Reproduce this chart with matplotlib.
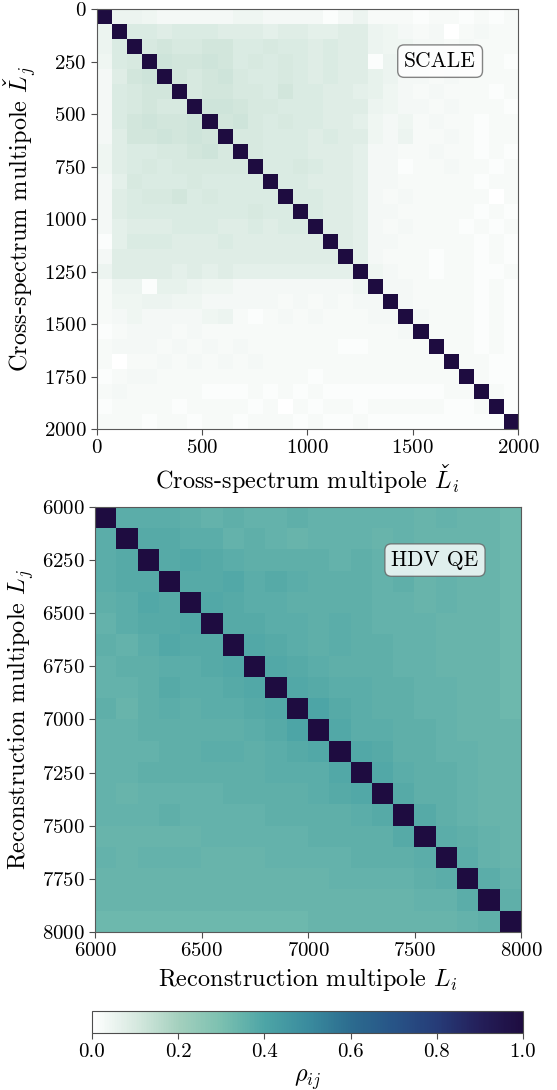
import numpy as np
import matplotlib
matplotlib.use("Agg")
import matplotlib.pyplot as plt
from matplotlib import rcParams
from matplotlib.colors import LinearSegmentedColormap
import matplotlib._mathtext as _mt
import matplotlib._mathtext_data as _mtd

rcParams['font.family'] = 'serif'
rcParams['font.serif'] = ['cmr10']
rcParams['mathtext.fontset'] = 'cm'
rcParams['axes.formatter.use_mathtext'] = True
rcParams['axes.unicode_minus'] = False

# mathtext knows no \check accent: register one drawn with the spacing caron
_mtd.tex2uni['combiningcaron'] = 0x02C7
_mt.Parser._accent_map['check'] = r'\combiningcaron'

# multipole ranges of the two binnings
scale_range = [0, 2000]
hdv_range = [6000, 8000]

# SCALE cross-spectrum bin correlations, upper triangle in units of 0.01
scale_upper = [
    [5, 5, 4, 3, 3, 3, 3, 3, 4, 4, 3, 3, 3, 3, 1, 3, 5, 2, 2, 2, 1, 2, 2, 1, 2, 1, 2],
    [9, 9, 8, 9, 9, 9, 8, 8, 8, 7, 8, 8, 7, 7, 8, 8, 5, 4, 3, 2, 3, 0, 2, 3, 2, 2],
    [10, 11, 10, 10, 11, 11, 9, 9, 10, 9, 9, 8, 9, 8, 8, 5, 4, 4, 3, 3, 2, 3, 2, 2, 2],
    [12, 11, 11, 12, 11, 9, 10, 9, 10, 9, 8, 9, 8, 8, 1, 5, 3, 3, 3, 2, 3, 2, 2, 1],
    [11, 10, 11, 12, 10, 9, 9, 10, 9, 8, 9, 8, 8, 6, 5, 3, 3, 2, 3, 2, 2, 2, 2],
    [10, 11, 11, 10, 10, 9, 11, 9, 9, 8, 8, 7, 6, 4, 3, 2, 3, 2, 2, 2, 1, 2],
    [12, 12, 11, 10, 10, 9, 9, 9, 8, 8, 8, 5, 4, 3, 3, 2, 3, 2, 2, 2, 1],
    [11, 12, 10, 9, 10, 9, 9, 8, 8, 7, 4, 3, 4, 2, 3, 2, 2, 1, 2, 2],
    [10, 10, 9, 9, 9, 8, 9, 8, 8, 4, 3, 5, 2, 2, 3, 2, 1, 2, 2],
    [10, 9, 9, 9, 8, 8, 8, 7, 3, 3, 2, 2, 3, 2, 2, 1, 2, 1],
    [9, 9, 10, 9, 8, 8, 7, 3, 3, 1, 2, 2, 3, 2, 2, 1, 2],
    [9, 9, 8, 8, 8, 7, 3, 3, 2, 2, 2, 2, 2, 1, 2, 2],
    [9, 9, 8, 8, 7, 3, 2, 3, 2, 2, 2, 2, 2, 0, 2],
    [9, 8, 8, 7, 3, 3, 2, 2, 2, 2, 2, 1, 2, 1],
    [8, 8, 7, 3, 2, 3, 2, 2, 2, 1, 2, 1, 2],
    [8, 7, 3, 3, 2, 2, 2, 2, 2, 1, 2, 1],
    [7, 3, 2, 2, 2, 1, 2, 2, 1, 2, 1],
    [4, 3, 2, 2, 1, 2, 2, 1, 1, 2],
    [3, 3, 2, 2, 2, 2, 1, 2, 1],
    [3, 2, 2, 2, 2, 1, 2, 1],
    [3, 2, 2, 2, 1, 2, 1],
    [2, 2, 2, 1, 2, 1],
    [2, 2, 1, 2, 1],
    [2, 2, 1, 1],
    [2, 1, 1],
    [2, 1],
    [1],
    [],
]

# HDV quadratic estimator bin correlations, upper triangle in units of 0.01
hdv_upper = [
    [37, 37, 37, 36, 35, 36, 35, 35, 36, 35, 35, 35, 35, 35, 34, 35, 34, 34, 33],
    [38, 38, 37, 37, 35, 36, 35, 34, 35, 35, 35, 34, 35, 34, 34, 34, 34, 33],
    [38, 39, 38, 37, 36, 36, 36, 36, 35, 36, 35, 35, 34, 35, 34, 34, 33],
    [38, 38, 39, 37, 38, 37, 36, 36, 36, 35, 36, 34, 35, 34, 34, 33],
    [39, 38, 37, 37, 36, 36, 36, 36, 35, 35, 34, 35, 34, 34, 33],
    [38, 38, 37, 37, 36, 37, 36, 35, 35, 35, 34, 34, 34, 33],
    [39, 38, 37, 36, 37, 36, 36, 35, 35, 34, 34, 34, 33],
    [39, 38, 37, 36, 36, 36, 35, 35, 34, 34, 34, 33],
    [39, 38, 37, 37, 36, 36, 35, 35, 34, 34, 33],
    [40, 38, 37, 36, 36, 35, 35, 34, 34, 33],
    [39, 37, 37, 36, 36, 35, 34, 34, 34],
    [39, 38, 36, 36, 35, 35, 34, 34],
    [39, 37, 36, 36, 35, 34, 34],
    [38, 36, 36, 35, 34, 34],
    [38, 36, 35, 34, 34],
    [37, 36, 35, 34],
    [37, 35, 34],
    [37, 35],
    [36],
    [],
]

scale_xticks = [0, 500, 1000, 1500, 2000]
scale_yticks = [0, 250, 500, 750, 1000, 1250, 1500, 1750, 2000]
hdv_xticks = [6000, 6500, 7000, 7500, 8000]
hdv_yticks = [6000, 6250, 6500, 6750, 7000, 7250, 7500, 7750, 8000]
cbar_ticks = [0.0, 0.2, 0.4, 0.6, 0.8, 1.0]


def full_matrix(upper):
    n = len(upper)
    m = np.eye(n)
    for i, row in enumerate(upper):
        for k, v in enumerate(row):
            m[i, i + 1 + k] = m[i + 1 + k, i] = v / 100.0
    return m


cmap = LinearSegmentedColormap.from_list("rho", [
    (0.0, "#ffffff"), (0.1, "#d7e9e0"), (0.2, "#a4d0be"), (0.3, "#7bc0b0"),
    (0.4, "#4da5a6"), (0.5, "#3a8c9e"), (0.6, "#2c6c8f"), (0.7, "#275487"),
    (0.8, "#263c78"), (0.9, "#241f5a"), (1.0, "#1e0c40")])

fig = plt.figure(figsize=(5.57, 10.9), dpi=100)
ax1 = fig.add_axes([0.174, 0.6064, 0.756, 0.3853])
ax2 = fig.add_axes([0.1706, 0.1450, 0.7648, 0.3899])

panels = [
    (ax1, full_matrix(scale_upper), scale_range, scale_xticks, scale_yticks,
     r"Cross-spectrum multipole $\check{L}_i$",
     r"Cross-spectrum multipole $\check{L}_j$",
     "SCALE", (0.815, 0.876)),
    (ax2, full_matrix(hdv_upper), hdv_range, hdv_xticks, hdv_yticks,
     r"Reconstruction multipole $L_i$", r"Reconstruction multipole $L_j$",
     "HDV QE", (0.798, 0.875)),
]

for ax, mat, rng, xt, yt, xl, yl, tag, pos in panels:
    im = ax.imshow(mat, cmap=cmap, vmin=0, vmax=1, interpolation="nearest",
                   extent=[rng[0], rng[1], rng[1], rng[0]], aspect="auto")
    ax.set_xticks(xt)
    ax.set_yticks(yt)
    ax.tick_params(labelsize=15, color="0.3", length=4)
    ax.set_xlabel(xl, fontsize=17.5, labelpad=4)
    ax.set_ylabel(yl, fontsize=17.5, labelpad=4)
    for s in ax.spines.values():
        s.set_edgecolor("0.35")
    ax.text(pos[0], pos[1], tag, transform=ax.transAxes, ha="center", va="center",
            fontsize=15.5,
            bbox=dict(boxstyle="round,pad=0.3", fc="white", ec="0.4", alpha=0.8))

cax = fig.add_axes([0.165, 0.0523, 0.774, 0.0202])
cb = fig.colorbar(im, cax=cax, orientation="horizontal", ticks=cbar_ticks)
cb.ax.set_xticklabels(["%.1f" % t for t in cbar_ticks])
cb.ax.tick_params(labelsize=15, color="0.3", length=4)
cb.outline.set_edgecolor("0.3")
cb.set_label(r"$\rho_{ij}$", fontsize=17.5)

fig.savefig("out.png", dpi=100)
